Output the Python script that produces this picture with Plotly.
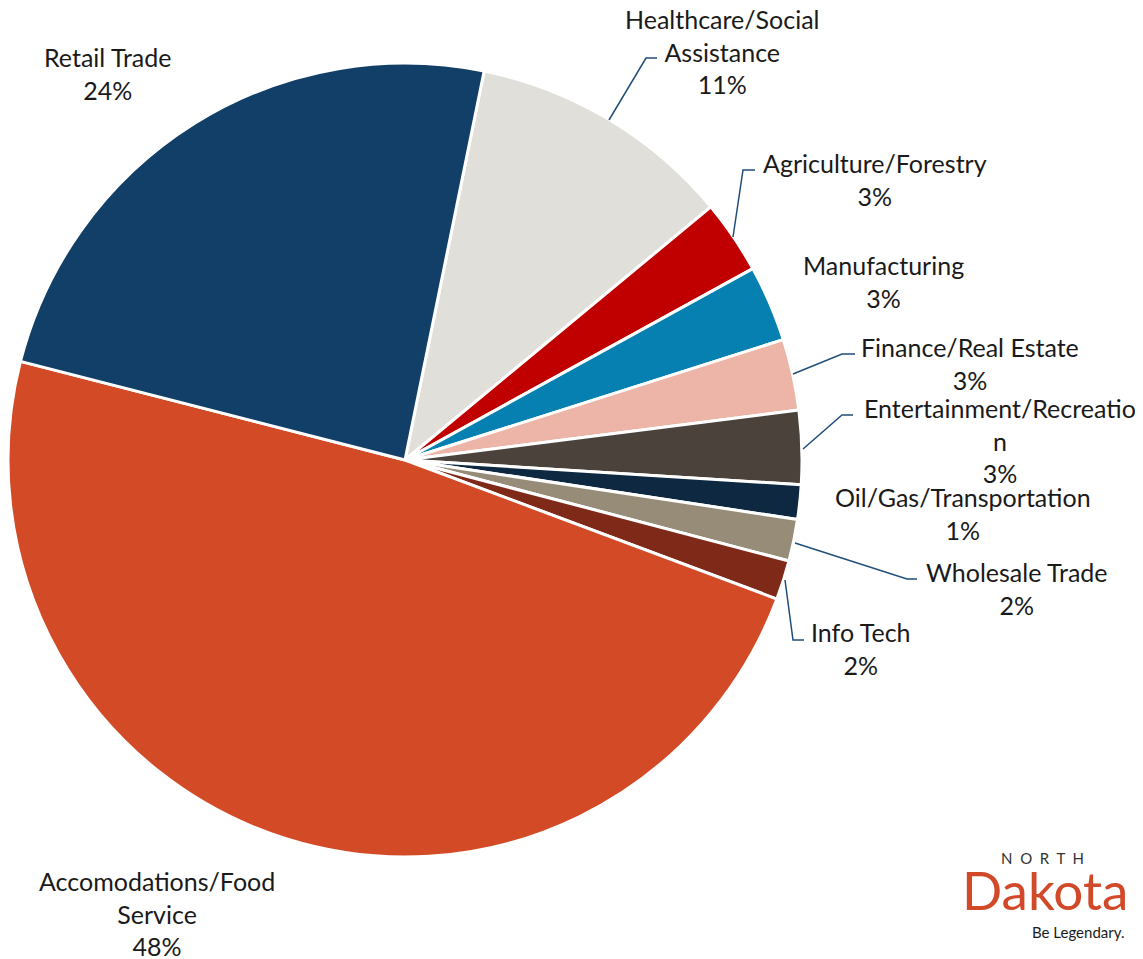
import plotly.graph_objects as go

# data, clockwise starting from Healthcare
sectors = ["Healthcare/Social Assistance", "Agriculture/Forestry", "Manufacturing",
           "Finance/Real Estate", "Entertainment/Recreation", "Oil/Gas/Transportation",
           "Wholesale Trade", "Info Tech", "Accomodations/Food Service", "Retail Trade"]
shares = [10.8, 3.0, 3.1, 2.9, 3.0, 1.4, 1.7, 1.6, 48.3, 24.2]
colors = ["#E1DFDA", "#C00000", "#0580B0", "#EDB5A8", "#4B423C",
          "#0D2840", "#968C78", "#7F2A18", "#D34A27", "#113F67"]

# label text as wrapped in the original
wrapped = {
    "Healthcare/Social Assistance": "Healthcare/Social<br>Assistance",
    "Entertainment/Recreation": "Entertainment/Recreatio<br>n",
    "Accomodations/Food Service": "Accomodations/Food<br>Service",
}

W, H = 1143, 959
OFF = 8  # page body margin
cx, cy, r = 405, 460, 397

# label centres (pixels)
label_pos = {
    "Healthcare/Social Assistance": (722, 51),
    "Agriculture/Forestry": (875, 179),
    "Manufacturing": (883, 281),
    "Finance/Real Estate": (970, 363),
    "Entertainment/Recreation": (1000, 440),
    "Oil/Gas/Transportation": (963, 513),
    "Wholesale Trade": (1017, 588),
    "Info Tech": (861, 648),
    "Accomodations/Food Service": (157, 913),
    "Retail Trade": (107, 73),
}

# leader lines (pixels)
leaders = [
    "M 609,120 L 646,58 L 657,58",
    "M 733,237 L 743,170 L 755,170",
    "M 793,374 L 842,354 L 855,354",
    "M 803,449 L 842,415 L 853,415",
    "M 795,543 L 907,579 L 917,579",
    "M 785,580 L 793,640 L 804,640",
]

fx, fy = cx - OFF, cy - OFF
fig = go.Figure()
fig.add_trace(go.Pie(
    labels=sectors, values=shares, sort=False, direction="clockwise", rotation=11.5,
    marker=dict(colors=colors, line=dict(color="white", width=3)),
    textinfo="none", showlegend=False,
    domain=dict(x=[(fx - r) / W, (fx + r) / W], y=[(H - fy - r) / H, (H - fy + r) / H]),
))

for name, val in zip(sectors, shares):
    x, y = label_pos[name]
    fig.add_annotation(x=x, y=y, xref="x", yref="y", showarrow=False,
                       text=f"{wrapped.get(name, name)}<br>{val:.0f}%",
                       xanchor="center", yanchor="middle", align="center",
                       font=dict(family="Lato", size=25, color="#1a1a1a"))

for p in leaders:
    fig.add_shape(type="path", path=p, xref="x", yref="y",
                  line=dict(color="#1F4E79", width=1.5))

# North Dakota logo
sp = "\u00a0\u00a0"
fig.add_annotation(x=1042, y=858, xref="x", yref="y", showarrow=False,
                   text=sp.join("NORTH"),
                   font=dict(family="Lato", size=15, color="#333333"))
fig.add_annotation(x=1045, y=889, xref="x", yref="y", showarrow=False, text="Dakota",
                   font=dict(family="Lato", size=53, color="#D2492A"))
fig.add_annotation(x=1078, y=932, xref="x", yref="y", showarrow=False, text="Be Legendary.",
                   font=dict(family="Lato", size=15, color="#1a1a1a"))

fig.update_layout(
    width=W, height=H, autosize=False,
    margin=dict(l=0, r=0, t=0, b=0),
    paper_bgcolor="white", plot_bgcolor="white",
    xaxis=dict(range=[OFF, W + OFF], visible=False, fixedrange=True),
    yaxis=dict(range=[H + OFF, OFF], visible=False, fixedrange=True),
)

fig.write_html("out.html")
